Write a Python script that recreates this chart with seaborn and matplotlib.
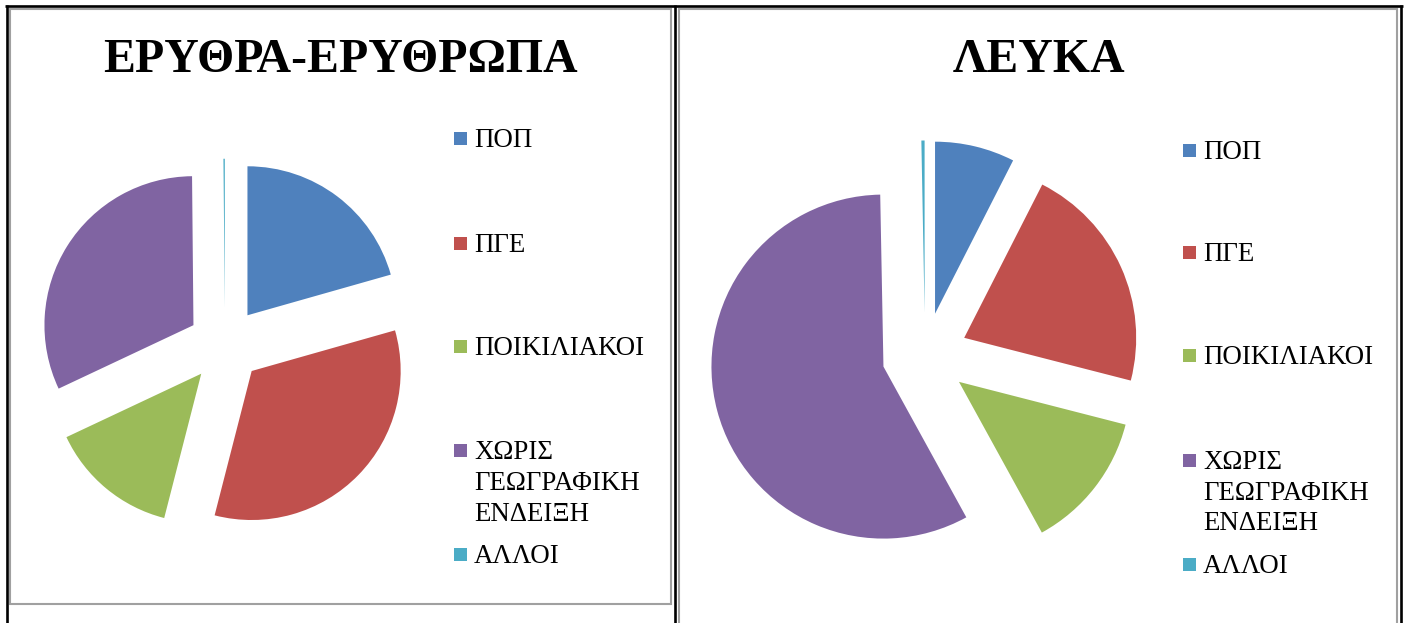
import matplotlib
matplotlib.use("Agg")
import matplotlib.pyplot as plt
import seaborn as sns
from matplotlib.patches import Rectangle
from matplotlib.lines import Line2D

# ---------------- data ----------------
categories = ["ΠΟΠ", "ΠΓΕ", "ΠΟΙΚΙΛΙΑΚΟΙ", "ΧΩΡΙΣ ΓΕΩΓΡΑΦΙΚΗ ΕΝΔΕΙΞΗ", "ΑΛΛΟΙ"]
legend_labels = ["ΠΟΠ", "ΠΓΕ", "ΠΟΙΚΙΛΙΑΚΟΙ", "ΧΩΡΙΣ\nΓΕΩΓΡΑΦΙΚΗ\nΕΝΔΕΙΞΗ", "ΑΛΛΟΙ"]
red_rose_share = [20.6, 33.4, 14.0, 31.85, 0.15]   # ΕΡΥΘΡΑ-ΕΡΥΘΡΩΠΑ (%)
white_share = [7.5, 21.5, 13.0, 57.7, 0.3]         # ΛΕΥΚΑ (%)
titles = ["ΕΡΥΘΡΑ-ΕΡΥΘΡΩΠΑ", "ΛΕΥΚΑ"]
colors = ["#4F81BD", "#C0504D", "#9BBB59", "#8064A2", "#4BACC6"]

# ---------------- style ----------------
sns.set_theme(style="white")
plt.rcParams["font.family"] = ["Liberation Serif", "DejaVu Serif"]
palette = sns.color_palette(colors)

W, H = 1410, 623
fig = plt.figure(figsize=(W / 100, H / 100), dpi=100)
ax = fig.add_axes([0, 0, 1, 1])


def Y(y):
    return H - y


EXPLODE = 0.25  # fraction of radius

panels = [
    dict(values=red_rose_share, title=titles[0], center=(225, 345), radius=149,
         title_x=340, title_base=72.5, leg_x=454, leg_y=[138, 243, 346, 450, 554], lsp=31),
    dict(values=white_share, title=titles[1], center=(925, 355.5), radius=172,
         title_x=1039, title_base=72.5, leg_x=1183, leg_y=[150, 252, 355.5, 460, 564], lsp=30.5),
]

for p in panels:
    ax.pie(p["values"], colors=palette, startangle=90, counterclock=False,
           explode=[EXPLODE * p["radius"]] * len(p["values"]),
           center=(p["center"][0], Y(p["center"][1])), radius=p["radius"],
           wedgeprops=dict(linewidth=0))
    ax.text(p["title_x"], Y(p["title_base"]), p["title"], ha="center", va="baseline",
            fontsize=34.5, fontweight="bold", color="black")
    for i, (lab, col) in enumerate(zip(legend_labels, palette)):
        yc = p["leg_y"][i]
        ax.add_patch(Rectangle((p["leg_x"], Y(yc + 6.5)), 13, 13, facecolor=col,
                               edgecolor="none"))
        for j, line in enumerate(lab.split("\n")):
            ax.text(p["leg_x"] + 20, Y(yc + j * p["lsp"] + 9.0), line, ha="left",
                    va="baseline", fontsize=19.4, color="black")

# ---------------- frames (table cells + chart borders) ----------------
gray = "#a0a0a0"
ax.add_patch(Rectangle((9.5, Y(604)), 661, 595, fill=False, edgecolor=gray, linewidth=1.5))
ax.add_patch(Rectangle((679, Y(640)), 717.5, 631, fill=False, edgecolor=gray, linewidth=1.5))
black_kw = dict(color="black", linewidth=1.9, solid_capstyle="butt")
ax.add_line(Line2D([5, 1402.5], [Y(6), Y(6)], **black_kw))
ax.add_line(Line2D([6.5, 6.5], [Y(5), Y(623)], **black_kw))
ax.add_line(Line2D([674.5, 674.5], [Y(5), Y(623)], **black_kw))
ax.add_line(Line2D([1401, 1401], [Y(5), Y(623)], **black_kw))

ax.set_xlim(0, W)
ax.set_ylim(0, H)
ax.set_aspect("auto")
ax.axis("off")

fig.savefig("out.png", dpi=100)
